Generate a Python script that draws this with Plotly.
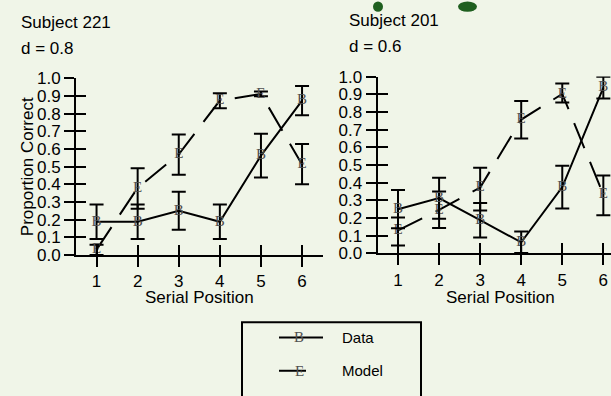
import plotly.graph_objects as go

# ---------------- data ----------------
positions = [1, 2, 3, 4, 5, 6]
y_ticks = [0.0, 0.1, 0.2, 0.3, 0.4, 0.5, 0.6, 0.7, 0.8, 0.9, 1.0]
y_tick_labels = ["0.0", "0.1", "0.2", "0.3", "0.4", "0.5", "0.6", "0.7", "0.8", "0.9", "1.0"]

s221_data = [0.1875, 0.1875, 0.25, 0.1875, 0.5625, 0.875]
s221_data_err = [0.098, 0.098, 0.108, 0.098, 0.124, 0.083]
s221_model = [0.03, 0.38, 0.57, 0.875, 0.912, 0.513]
s221_model_err_plus = [0.027, 0.111, 0.113, 0.042, 0.014, 0.116]
s221_model_err_minus = [0.03, 0.119, 0.115, 0.044, 0.013, 0.112]

s201_data = [0.25, 0.3125, 0.1875, 0.0625, 0.375, 0.9375]
s201_data_err = [0.108, 0.116, 0.098, 0.061, 0.121, 0.061]
s201_model = [0.13, 0.246, 0.372, 0.757, 0.902, 0.332]
s201_model_err_plus = [0.073, 0.104, 0.113, 0.105, 0.059, 0.108]
s201_model_err_minus = [0.085, 0.102, 0.13, 0.107, 0.049, 0.117]

titles = ["Subject 221", "Subject 201"]
subtitles = ["d = 0.8", "d = 0.6"]
x_title = "Serial Position"
y_title = "Proportion Correct"
series_names = ["Data", "Model"]
series_symbols = ["B", "E"]

# ---------------- style ----------------
W, H = 611, 396
BG = "#F0F5E8"
SANS = "Liberation Sans, Arial, sans-serif"
SERIF = "Liberation Serif, Times New Roman, serif"
DASH = "27px,15px"
MARK = "#505050"


def px_x(p):
    return p / W


def px_y(p):
    return 1 - p / H


fig = go.Figure()


def add_series(xa, ya, values, plus, minus, dash, symbol):
    fig.add_trace(go.Scatter(
        x=positions, y=values, xaxis=xa, yaxis=ya,
        mode="lines+text", text=[symbol] * len(values),
        textposition="middle center",
        textfont=dict(family=SERIF, size=15, color=MARK),
        marker=dict(color=MARK),
        line=dict(color="black", width=2, dash=dash),
        error_y=dict(type="data", array=plus, arrayminus=minus, symmetric=False,
                     color="black", thickness=2, width=7),
        showlegend=False, hoverinfo="skip", cliponaxis=False,
    ))


add_series("x", "y", s221_model, s221_model_err_plus, s221_model_err_minus, DASH, series_symbols[1])
add_series("x", "y", s221_data, s221_data_err, s221_data_err, "solid", series_symbols[0])
add_series("x2", "y2", s201_model, s201_model_err_plus, s201_model_err_minus, DASH, series_symbols[1])
add_series("x2", "y2", s201_data, s201_data_err, s201_data_err, "solid", series_symbols[0])

# invisible traces so the tick-overlay axes (inner half of the crossing ticks) are drawn
for xa, ya in [("x3", "y3"), ("x4", "y4")]:
    fig.add_trace(go.Scatter(x=[1], y=[0], xaxis=xa, yaxis=ya, mode="markers",
                             marker=dict(opacity=0), showlegend=False, hoverinfo="skip"))

dom1_x = [px_x(76), px_x(322.6)]
dom1_y = [px_y(258.3), px_y(73)]
dom2_x = [px_x(377.5), 1.0]
dom2_y = [px_y(256.7), px_y(71)]
range1_x = [0.5, 6.5]
range2_x = [0.5, 0.5 + (611 - 377.5) / 41.06]

tickfont = dict(family=SANS, size=17, color="black")


def xaxis(domain, rng, anchor, overlay=None):
    d = dict(domain=domain, range=rng, tickvals=positions, ticktext=[str(p) for p in positions],
             ticks="inside" if overlay else "outside", ticklen=10, tickwidth=2, tickcolor="black",
             showline=not overlay, linewidth=2, linecolor="black", showgrid=False, zeroline=False,
             showticklabels=not overlay, tickfont=tickfont, anchor=anchor, fixedrange=True)
    if overlay:
        d["overlaying"] = overlay
    return d


def yaxis(domain, anchor, overlay=None):
    d = dict(domain=domain, range=[0, 1], tickvals=y_ticks, ticktext=y_tick_labels,
             ticks="inside" if overlay else "outside", ticklen=10, tickwidth=2, tickcolor="black",
             showline=not overlay, linewidth=2, linecolor="black", showgrid=False, zeroline=False,
             showticklabels=not overlay, tickfont=tickfont, anchor=anchor, fixedrange=True)
    if overlay:
        d["overlaying"] = overlay
    return d


annotations = []
shapes = []
for i, (xref, xpix, ys) in enumerate([("x", 19, (14, 41)), ("x2", 347, (12, 39))]):
    annotations.append(dict(text=titles[i], xref="paper", yref="paper", x=px_x(xpix), y=px_y(ys[0]),
                            xanchor="left", yanchor="middle", showarrow=False,
                            font=dict(family=SANS, size=17, color="black")))
    annotations.append(dict(text=subtitles[i], xref="paper", yref="paper", x=px_x(xpix), y=px_y(ys[1]),
                            xanchor="left", yanchor="middle", showarrow=False,
                            font=dict(family=SANS, size=17, color="black")))
    annotations.append(dict(text=x_title, xref=xref, yref="paper", x=3.5, y=px_y(303),
                            xanchor="center", yanchor="middle", showarrow=False,
                            font=dict(family=SANS, size=17, color="black")))

annotations.append(dict(text=y_title, xref="paper", yref="paper", x=px_x(27.5),
                        y=(dom1_y[0] + dom1_y[1]) / 2, textangle=-90,
                        xanchor="center", yanchor="middle", showarrow=False,
                        font=dict(family=SANS, size=17, color="black")))

# legend box (manual, so the marker glyphs can be letters)
shapes.append(dict(type="rect", xref="paper", yref="paper", x0=px_x(242), x1=px_x(421),
                   y0=px_y(420), y1=px_y(329), line=dict(color="black", width=2),
                   fillcolor=BG, layer="below"))
for name, sym, dash, ypix, x_end in [(series_names[0], series_symbols[0], "solid", 345, 323),
                                     (series_names[1], series_symbols[1], DASH, 380, 319)]:
    shapes.append(dict(type="line", xref="paper", yref="paper", x0=px_x(279), x1=px_x(x_end),
                       y0=px_y(ypix), y1=px_y(ypix), line=dict(color="black", width=2, dash=dash)))
    annotations.append(dict(text=sym, xref="paper", yref="paper", x=px_x(299), y=px_y(ypix),
                            xanchor="center", yanchor="middle", showarrow=False,
                            font=dict(family=SERIF, size=15, color=MARK)))
    annotations.append(dict(text=name, xref="paper", yref="paper", x=px_x(340), y=px_y(ypix),
                            xanchor="left", yanchor="middle", showarrow=False,
                            font=dict(family=SANS, size=15, color="black")))

# small partially visible green marks at the top edge
for x0, x1 in [(373, 383), (458, 477)]:
    shapes.append(dict(type="circle", xref="paper", yref="paper", x0=px_x(x0), x1=px_x(x1),
                       y0=px_y(3), y1=px_y(-8), fillcolor="#1F5F1F", line=dict(width=0)))

fig.update_layout(
    width=W, height=H,
    margin=dict(l=0, r=0, t=0, b=0, pad=0),
    paper_bgcolor=BG, plot_bgcolor=BG,
    colorway=[MARK],
    showlegend=False,
    font=dict(family=SANS, size=17, color="black"),
    xaxis=xaxis(dom1_x, range1_x, "y"),
    yaxis=yaxis(dom1_y, "x"),
    xaxis2=xaxis(dom2_x, range2_x, "y2"),
    yaxis2=yaxis(dom2_y, "x2"),
    xaxis3=xaxis(dom1_x, range1_x, "y3", overlay="x"),
    yaxis3=yaxis(dom1_y, "x3", overlay="y"),
    xaxis4=xaxis(dom2_x, range2_x, "y4", overlay="x2"),
    yaxis4=yaxis(dom2_y, "x4", overlay="y2"),
    annotations=annotations,
    shapes=shapes,
)

fig.write_html("out.html")
